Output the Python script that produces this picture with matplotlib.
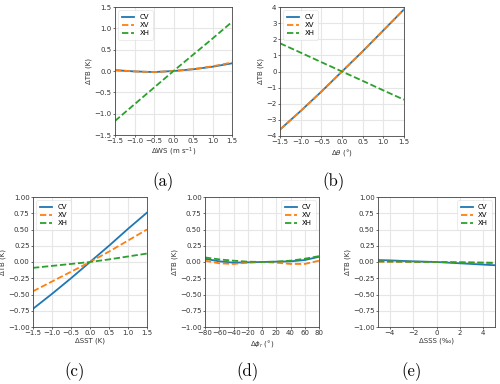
import matplotlib
matplotlib.use("Agg")
import matplotlib.pyplot as plt
import numpy as np

plt.rcParams['mathtext.fontset'] = 'dejavusans'

# Panel (a): wind speed
ws_x = [-1.5, -1.0, -0.5, 0.0, 0.5, 1.0, 1.5]
ws_cv = [0.02, -0.01, -0.025, 0.0, 0.04, 0.10, 0.18]
ws_xv = [0.02, -0.01, -0.025, 0.0, 0.045, 0.11, 0.20]
ws_xh = [-1.17, -0.78, -0.39, 0.0, 0.38, 0.76, 1.15]

# Panel (b): incidence angle
th_x = [-1.5, -1.0, -0.5, 0.0, 0.5, 1.0, 1.5]
th_cv = [-3.6, -2.45, -1.25, 0.0, 1.25, 2.55, 3.85]
th_xv = [-3.6, -2.45, -1.25, 0.0, 1.25, 2.55, 3.85]
th_xh = [1.75, 1.17, 0.58, 0.0, -0.58, -1.17, -1.75]

# Panel (c): SST
sst_x = [-1.5, -1.0, -0.5, 0.0, 0.5, 1.0, 1.5]
sst_cv = [-0.72, -0.49, -0.25, 0.0, 0.25, 0.51, 0.76]
sst_xv = [-0.45, -0.30, -0.15, 0.0, 0.16, 0.33, 0.50]
sst_xh = [-0.09, -0.06, -0.03, 0.0, 0.04, 0.085, 0.13]

# Panel (d): relative azimuth
phi_x = [-80, -60, -40, -20, 0, 20, 40, 60, 80]
phi_cv = [0.05, 0.01, -0.01, -0.005, 0.0, 0.005, 0.01, 0.03, 0.08]
phi_xv = [0.02, -0.02, -0.03, -0.01, 0.0, -0.01, -0.03, -0.03, 0.02]
phi_xh = [0.07, 0.04, 0.02, 0.005, 0.0, 0.005, 0.02, 0.05, 0.09]

# Panel (e): SSS
sss_x = [-5, -4, -2, 0, 2, 4, 5]
sss_cv = [0.03, 0.025, 0.01, 0.0, -0.02, -0.04, -0.05]
sss_xv = [0.005, 0.004, 0.002, 0.0, -0.004, -0.008, -0.01]
sss_xh = [0.01, 0.008, 0.004, 0.0, -0.006, -0.012, -0.015]

series_names = ['CV', 'XV', 'XH']
colors = ['#1f77b4', '#ff7f0e', '#2ca02c']

W, H = 500, 384
fig = plt.figure(figsize=(5.0, 3.84), dpi=100)

def ax_px(l, r, t, b):
    return fig.add_axes([l / W, 1 - b / H, (r - l) / W, (b - t) / H])

panels = [
    dict(box=(115, 232, 7, 135), x=ws_x, ys=(ws_cv, ws_xv, ws_xh),
         xlim=(-1.5, 1.5), ylim=(-1.5, 1.5), xt=np.arange(-1.5, 1.51, 0.5),
         yt=np.arange(-1.5, 1.51, 0.5), xl='ΔWS (m s$^{-1}$)', loc='upper left',
         lab='(a)', labx=163),
    dict(box=(280, 404, 7, 136), x=th_x, ys=(th_cv, th_xv, th_xh),
         xlim=(-1.5, 1.5), ylim=(-4, 4), xt=np.arange(-1.5, 1.51, 0.5),
         yt=np.arange(-4, 5, 1), xl=r'Δ$\theta$ (°)', loc='upper left',
         lab='(b)', labx=333),
    dict(box=(33, 147, 197, 327), x=sst_x, ys=(sst_cv, sst_xv, sst_xh),
         xlim=(-1.5, 1.5), ylim=(-1, 1), xt=np.arange(-1.5, 1.51, 0.5),
         yt=np.arange(-1, 1.01, 0.25), xl='ΔSST (K)', loc='upper left',
         lab='(c)', labx=75),
    dict(box=(205, 319, 197, 327), x=phi_x, ys=(phi_cv, phi_xv, phi_xh),
         xlim=(-80, 80), ylim=(-1, 1), xt=np.arange(-80, 81, 20),
         yt=np.arange(-1, 1.01, 0.25), xl=r'Δ$\phi_r$ (°)', loc='upper right',
         lab='(d)', labx=247),
    dict(box=(378, 495, 197, 327), x=sss_x, ys=(sss_cv, sss_xv, sss_xh),
         xlim=(-5, 5), ylim=(-1, 1), xt=np.arange(-4, 5, 2),
         yt=np.arange(-1, 1.01, 0.25), xl='ΔSSS (‰)', loc='upper right',
         lab='(e)', labx=412),
]

for p in panels:
    ax = ax_px(*p['box'])
    for i, (name, y) in enumerate(zip(series_names, p['ys'])):
        ls = '-' if i == 0 else (0, (3.5, 1.5))
        ax.plot(p['x'], y, color=colors[i], lw=1.3, ls=ls, label=name)
    ax.set_xlim(*p['xlim'])
    ax.set_ylim(*p['ylim'])
    ax.set_xticks(p['xt'])
    ax.set_yticks(p['yt'])
    ax.grid(True, color='#e6e6e6', lw=0.8)
    ax.set_axisbelow(True)
    ax.tick_params(labelsize=5, length=1.5, width=0.5, pad=1, colors='#333333')
    for s in ax.spines.values():
        s.set_linewidth(0.6)
        s.set_color('#444444')
    ax.set_xlabel(p['xl'], fontsize=5, labelpad=1, color='#333333')
    ax.set_ylabel('ΔTB (K)', fontsize=5, labelpad=1.5, color='#333333')
    leg = ax.legend(loc=p['loc'], fontsize=5, handlelength=1.7, frameon=True,
                    borderpad=0.5, labelspacing=0.3, handletextpad=0.8)
    leg.get_frame().set_linewidth(0.5)
    leg.get_frame().set_edgecolor('#dddddd')
    ly = 182 if p['box'][2] < 100 else 372
    fig.text(p['labx'] / W, 1 - ly / H, p['lab'], family='cmr10',
             fontsize=12, ha='center', va='center')

fig.savefig('out.png', dpi=100)
